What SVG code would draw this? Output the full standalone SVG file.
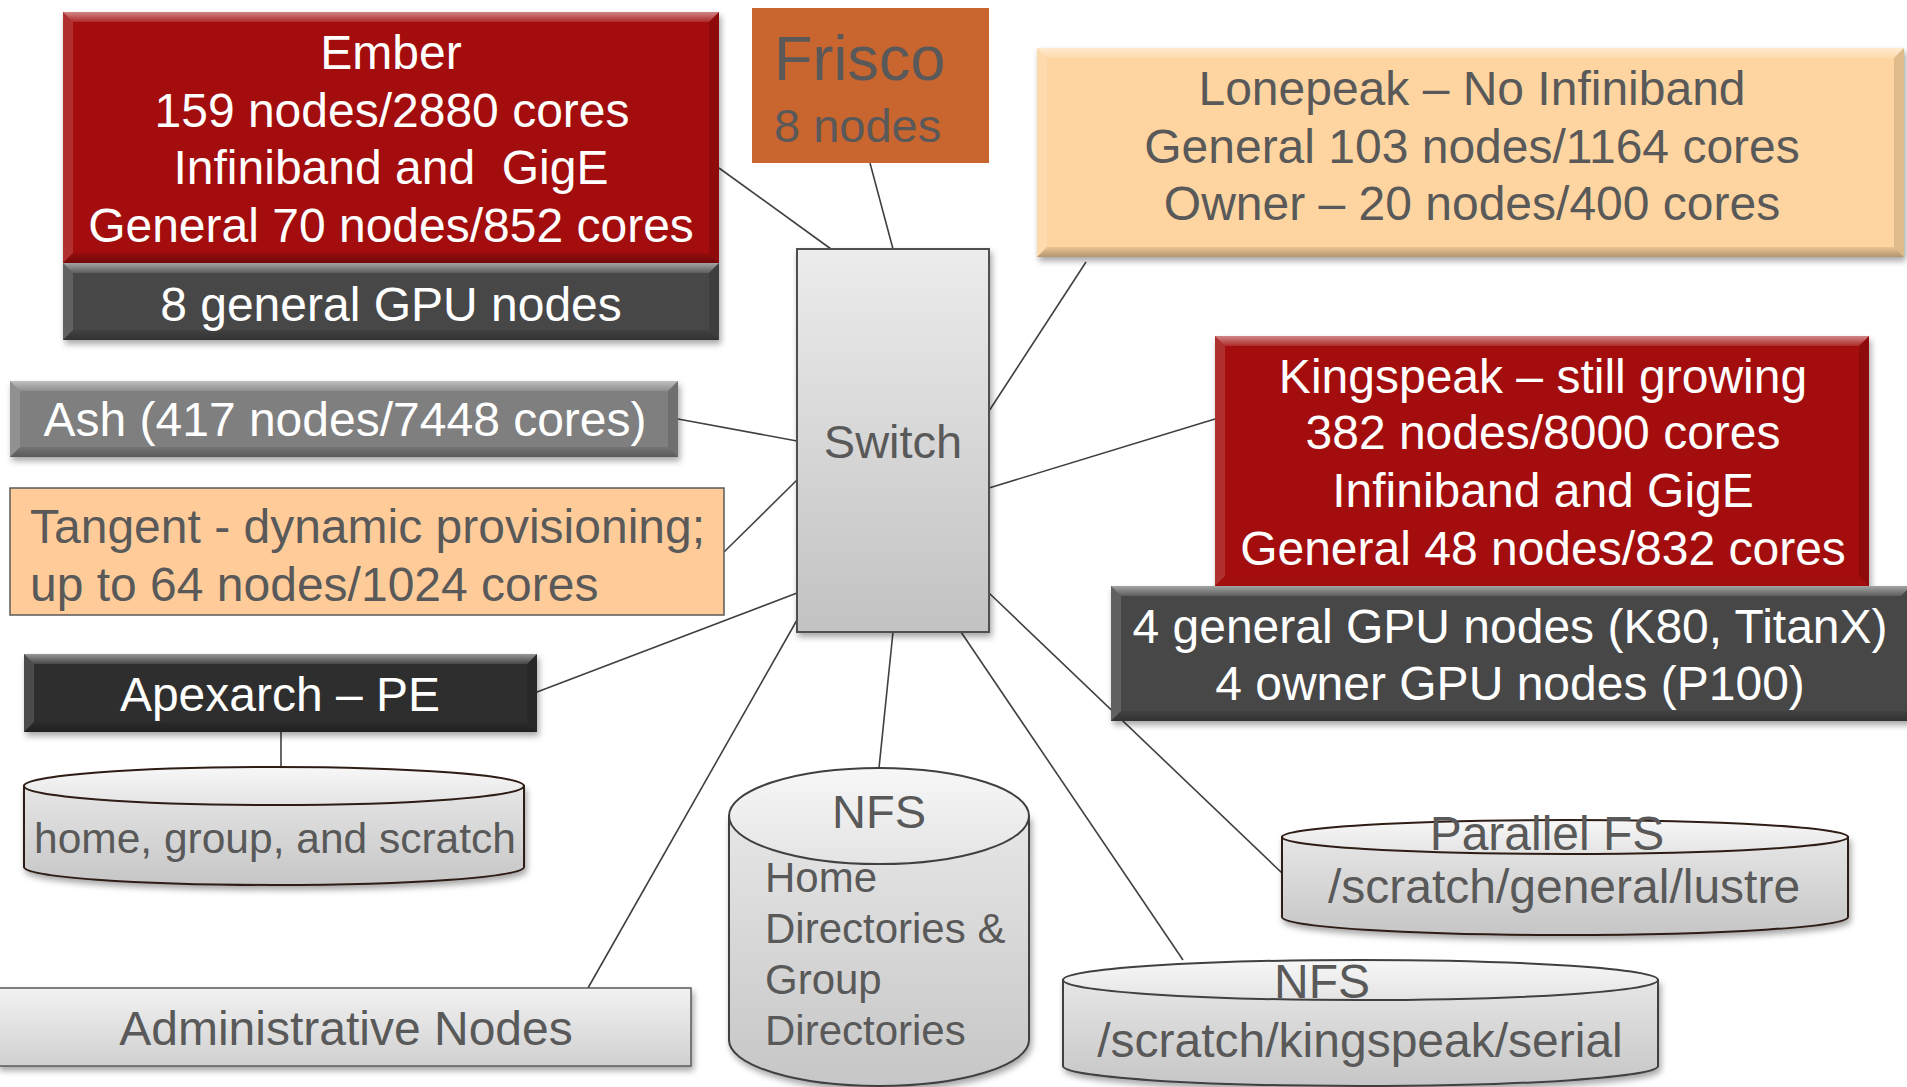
<svg xmlns="http://www.w3.org/2000/svg" width="1907" height="1087" viewBox="0 0 1907 1087">
<defs>
<style>
text{font-family:"Liberation Sans",Arial,sans-serif;font-size:48px}
.w{fill:#fff}
.g{fill:#595959}
.c{text-anchor:middle}
.pre{white-space:pre}
.bt{fill:url(#gTop)}
.bl{fill:#fff;fill-opacity:.14}
.br{fill:#000;fill-opacity:.12}
.bb{fill:url(#gBot)}
.conn line{stroke:#404040;stroke-width:1.6}
.cyl{stroke:#2e1d14;stroke-width:2}
</style>
<linearGradient id="gTop" x1="0" y1="0" x2="0" y2="1"><stop offset="0" stop-color="#fff" stop-opacity=".5"/><stop offset="1" stop-color="#fff" stop-opacity=".12"/></linearGradient>
<linearGradient id="gBot" x1="0" y1="0" x2="0" y2="1"><stop offset="0" stop-color="#000" stop-opacity=".08"/><stop offset="1" stop-color="#000" stop-opacity=".3"/></linearGradient>
<linearGradient id="gSwitch" x1="0" y1="0" x2="0" y2="1"><stop offset="0" stop-color="#ececec"/><stop offset="1" stop-color="#c2c2c2"/></linearGradient>
<linearGradient id="gCyl" x1="0" y1="0" x2="0" y2="1"><stop offset="0" stop-color="#e6e6e6"/><stop offset="1" stop-color="#c6c6c6"/></linearGradient>
<linearGradient id="gTopE" x1="0" y1="0" x2="0" y2="1"><stop offset="0" stop-color="#f7f7f7"/><stop offset="1" stop-color="#e4e4e4"/></linearGradient>
<linearGradient id="gAdmin" x1="0" y1="0" x2="0" y2="1"><stop offset="0" stop-color="#f2f2f2"/><stop offset="1" stop-color="#d0d0d0"/></linearGradient>
<filter id="sh" x="-5%" y="-10%" width="110%" height="130%"><feDropShadow dx="2" dy="4" stdDeviation="3" flood-color="#000" flood-opacity=".35"/></filter>
</defs>
<rect width="1907" height="1087" fill="#fff"/>

<g id="connectors" class="conn">
<line x1="719" y1="168" x2="831" y2="249"/>
<line x1="870" y1="163" x2="893" y2="249"/>
<line x1="1086" y1="262" x2="989" y2="411"/>
<line x1="1215" y1="419" x2="989" y2="488"/>
<line x1="989" y1="593" x2="1282" y2="873"/>
<line x1="961" y1="632" x2="1183" y2="960"/>
<line x1="893" y1="632" x2="879" y2="768"/>
<line x1="797" y1="620" x2="588" y2="988"/>
<line x1="797" y1="593" x2="537" y2="692"/>
<line x1="797" y1="480" x2="724" y2="552"/>
<line x1="678" y1="419" x2="797" y2="441"/>
<line x1="281" y1="732" x2="281" y2="768"/>
</g>

<g id="ember">
<g filter="url(#sh)">
<rect x="63" y="12" width="656" height="251" fill="#a30707"/>
<rect x="63" y="263" width="656" height="77" fill="#474747"/>
</g>
<polygon class="bt" points="63,12 719,12 709,22 73,22"/>
<polygon class="bl" points="63,12 73,22 73,253 63,263"/>
<polygon class="br" points="719,12 719,263 709,253 709,22"/>
<polygon class="bb" points="63,263 73,253 709,253 719,263"/>
<polygon class="bt" points="63,263 719,263 709,273 73,273"/>
<polygon class="bl" points="63,263 73,273 73,330 63,340"/>
<polygon class="br" points="719,263 719,340 709,330 709,273"/>
<polygon class="bb" points="63,340 73,330 709,330 719,340"/>
<text class="w c" x="391" y="69">Ember</text>
<text class="w c" x="392" y="127">159 nodes/2880 cores</text>
<text class="w c pre" x="391" y="184">Infiniband and  GigE</text>
<text class="w c" x="391" y="242">General 70 nodes/852 cores</text>
<text class="w c" x="391" y="321">8 general GPU nodes</text>
</g>

<g id="frisco">
<rect x="752" y="8" width="237" height="155" fill="#c9652f"/>
<text class="g" x="774" y="80" style="font-size:63px">Frisco</text>
<text class="g" x="774" y="142" style="font-size:47px">8 nodes</text>
</g>

<g id="switch">
<rect x="797" y="249" width="192" height="383" fill="url(#gSwitch)" stroke="#505050" stroke-width="2" filter="url(#sh)"/>
<text class="g c" x="893" y="458" style="font-size:47px">Switch</text>
</g>

<g id="lonepeak">
<rect x="1037" y="48" width="867" height="209" fill="#fed5a0" filter="url(#sh)"/>
<polygon class="bt" points="1037,48 1904,48 1894,58 1047,58"/>
<polygon class="bl" points="1037,48 1047,58 1047,247 1037,257"/>
<polygon class="br" points="1904,48 1904,257 1894,247 1894,58"/>
<polygon class="bb" points="1037,257 1047,247 1894,247 1904,257"/>
<text class="g c" x="1472" y="105">Lonepeak – No Infiniband</text>
<text class="g c" x="1472" y="163">General 103 nodes/1164 cores</text>
<text class="g c" x="1472" y="220">Owner – 20 nodes/400 cores</text>
</g>

<g id="kingspeak">
<rect x="1215" y="336" width="654" height="250" fill="#a30707" filter="url(#sh)"/>
<polygon class="bt" points="1215,336 1869,336 1859,346 1225,346"/>
<polygon class="bl" points="1215,336 1225,346 1225,576 1215,586"/>
<polygon class="br" points="1869,336 1869,586 1859,576 1859,346"/>
<text class="w c" x="1543" y="393">Kingspeak – still growing</text>
<text class="w c" x="1543" y="449">382 nodes/8000 cores</text>
<text class="w c" x="1543" y="507">Infiniband and GigE</text>
<text class="w c" x="1543" y="565">General 48 nodes/832 cores</text>
</g>

<g id="kingspeak-gpu">
<rect x="1111" y="586" width="800" height="135" fill="#474747" filter="url(#sh)"/>
<polygon class="bt" points="1111,586 1911,586 1901,596 1121,596"/>
<polygon class="bl" points="1111,586 1121,596 1121,711 1111,721"/>
<polygon class="bb" points="1111,721 1121,711 1911,711 1911,721"/>
<text class="w c" x="1510" y="643">4 general GPU nodes (K80, TitanX)</text>
<text class="w c" x="1510" y="700">4 owner GPU nodes (P100)</text>
</g>

<g id="ash">
<rect x="10" y="381" width="668" height="76" fill="#7f7f7f" filter="url(#sh)"/>
<polygon class="bt" points="10,381 678,381 668,391 20,391"/>
<polygon class="bl" points="10,381 20,391 20,447 10,457"/>
<polygon class="br" points="678,381 678,457 668,447 668,391"/>
<polygon class="bb" points="10,457 20,447 668,447 678,457"/>
<text class="w c" x="345" y="436">Ash (417 nodes/7448 cores)</text>
</g>

<g id="tangent">
<rect x="10" y="488" width="714" height="127" fill="#ffcc99" stroke="#595959" stroke-width="1.5"/>
<text class="g" x="30" y="543">Tangent - dynamic provisioning;</text>
<text class="g" x="30" y="601">up to 64 nodes/1024 cores</text>
</g>

<g id="apexarch">
<rect x="24" y="654" width="513" height="78" fill="#2e2e2e" filter="url(#sh)"/>
<polygon class="bt" points="24,654 537,654 527,664 34,664"/>
<polygon class="bl" points="24,654 34,664 34,722 24,732"/>
<polygon class="br" points="537,654 537,732 527,722 527,664"/>
<polygon class="bb" points="24,732 34,722 527,722 537,732"/>
<text class="w c" x="280" y="711">Apexarch – PE</text>
</g>

<g id="home-cylinder">
<path class="cyl" d="M24,786 L24,867 A250,18 0 0 0 524,867 L524,786 Z" fill="url(#gCyl)" filter="url(#sh)"/>
<ellipse class="cyl" cx="274" cy="786" rx="250" ry="19" fill="url(#gTopE)"/>
<text class="g" x="34" y="853" style="font-size:42.5px">home, group, and scratch</text>
</g>

<g id="nfs-home">
<path d="M729,816 L729,1040 A150,46 0 0 0 1029,1040 L1029,816 Z" fill="url(#gCyl)" stroke="#404040" stroke-width="2" filter="url(#sh)"/>
<ellipse cx="879" cy="816" rx="150" ry="48" fill="url(#gTopE)" stroke="#404040" stroke-width="2"/>
<text class="g c" x="879" y="828" style="font-size:47px">NFS</text>
<text class="g" x="765" y="892" style="font-size:42px">Home</text>
<text class="g" x="765" y="943" style="font-size:42px">Directories &amp;</text>
<text class="g" x="765" y="994" style="font-size:42px">Group</text>
<text class="g" x="765" y="1045" style="font-size:42px">Directories</text>
</g>

<g id="parallel-fs">
<path class="cyl" d="M1282,837 L1282,917 A283,18 0 0 0 1848,917 L1848,837 Z" fill="url(#gCyl)" filter="url(#sh)"/>
<ellipse class="cyl" cx="1565" cy="837" rx="283" ry="17" fill="url(#gTopE)"/>
<text class="g c" x="1547" y="850">Parallel FS</text>
<text class="g c" x="1564" y="903">/scratch/general/lustre</text>
</g>

<g id="nfs-serial">
<path d="M1063,980 L1063,1066 A297.5,20 0 0 0 1658,1066 L1658,980 Z" fill="url(#gCyl)" stroke="#404040" stroke-width="2" filter="url(#sh)"/>
<ellipse cx="1360.5" cy="980" rx="297.5" ry="20" fill="url(#gTopE)" stroke="#404040" stroke-width="2"/>
<text class="g c" x="1322" y="998">NFS</text>
<text class="g c" x="1360" y="1057">/scratch/kingspeak/serial</text>
</g>

<g id="admin">
<rect x="-2" y="988" width="693" height="78" fill="url(#gAdmin)" stroke="#595959" stroke-width="1.5" filter="url(#sh)"/>
<text class="g c" x="346" y="1045">Administrative Nodes</text>
</g>
</svg>
